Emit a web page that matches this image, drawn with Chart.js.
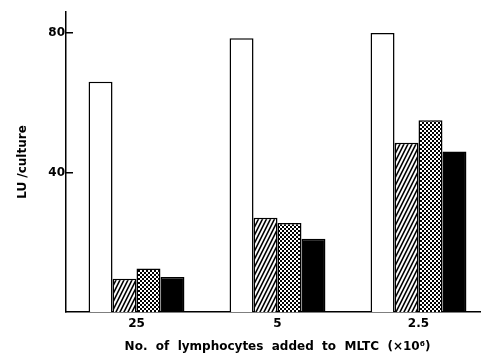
<!DOCTYPE html>
<html>
<head>
<meta charset="utf-8">
<script src="https://cdn.jsdelivr.net/npm/chart.js@4/dist/chart.umd.min.js"></script>
<style>
  html, body { margin: 0; padding: 0; background: #fff; overflow: hidden; }
  #wrap { width: 481px; height: 358px; overflow: hidden; }
</style>
</head>
<body>
<div id="wrap"><canvas id="chartDisplay" width="489" height="358"></canvas></div>
<script>
// data
const doses = ['25', '5', '2.5'];          // lymphocytes added (x10^6)
const openBars = [66, 78.5, 80];
const hatchedBars = [9.5, 27, 48.5];
const dottedBars = [12.5, 25.5, 55];
const blackBars = [10, 21, 46];
const yTicks = [40, 80];

// steep diagonal hatch, like the printed figure
function hatchPattern(){
    const c = document.createElement('canvas');
    c.width = 4; c.height = 8;
    const ctx = c.getContext('2d');
    ctx.fillStyle = '#fff';
    ctx.fillRect(0, 0, 4, 8);
    ctx.strokeStyle = '#000';
    ctx.lineWidth = 1.6;
    ctx.beginPath();
    for (let k = -1; k <= 1; k++) {
        ctx.moveTo(k * 4 - 0.5, 9);
        ctx.lineTo(k * 4 + 4.5, -1);
    }
    ctx.stroke();
    return ctx.createPattern(c, 'repeat');
}

// fine stipple (checker of small dots)
function dotPattern(){
    const c = document.createElement('canvas');
    c.width = 4; c.height = 4;
    const ctx = c.getContext('2d');
    ctx.fillStyle = '#fff';
    ctx.fillRect(0, 0, 4, 4);
    ctx.fillStyle = '#000';
    ctx.fillRect(0, 0, 2, 2);
    ctx.fillRect(2, 2, 2, 2);
    return ctx.createPattern(c, 'repeat');
}

Chart.defaults.font.family = 'DejaVu Sans';
Chart.defaults.font.size = 12;
Chart.defaults.font.weight = 'bold';
Chart.defaults.color = '#000';

const common = { borderColor: '#000', borderWidth: 1.5, borderSkipped: 'bottom' };

let chart = new Chart(document.getElementById('chartDisplay'), {
    type: 'bar',
    data: {
        labels: doses,
        datasets: [
            Object.assign({ label: 'open', data: openBars, backgroundColor: '#fff' }, common),
            Object.assign({ label: 'hatched', data: hatchedBars, backgroundColor: hatchPattern() }, common),
            Object.assign({ label: 'dotted', data: dottedBars, backgroundColor: dotPattern() }, common),
            Object.assign({ label: 'black', data: blackBars, backgroundColor: '#000' }, common)
        ]
    },
    options: {
        responsive: false,
        animation: false,
        categoryPercentage: 0.68,
        barPercentage: 1.0,
        layout: { padding: { top: 12, left: 0, right: 0, bottom: 4 } },
        plugins: { legend: { display: false }, tooltip: { enabled: false } },
        scales: {
            x: {
                grid: { display: false, drawTicks: false },
                border: { display: true, color: '#000', width: 1.5 },
                ticks: { padding: 5 },
                title: {
                    display: true,
                    text: 'No.  of  lymphocytes  added  to  MLTC  (×10⁶)',
                    padding: { top: 0, bottom: 0 }
                },
                afterFit: function(scale){ scale.height = 42; }
            },
            y: {
                min: 0,
                max: 86,
                grid: { drawOnChartArea: false, drawTicks: true, tickLength: -7, color: '#000', lineWidth: 1.5 },
                border: { display: true, color: '#000', width: 1.5 },
                ticks: { padding: 8 },
                afterBuildTicks: function(scale){
                    scale.ticks = yTicks.map(v => ({ value: v }));
                },
                title: {
                    display: true,
                    text: 'LU /culture',
                    padding: { top: 16, bottom: 0 }
                },
                afterFit: function(scale){
                    scale.width = 66;
                    scale.paddingTop = 0;
                    scale.paddingBottom = 0;
                }
            }
        }
    }
});
</script>
</body>
</html>
